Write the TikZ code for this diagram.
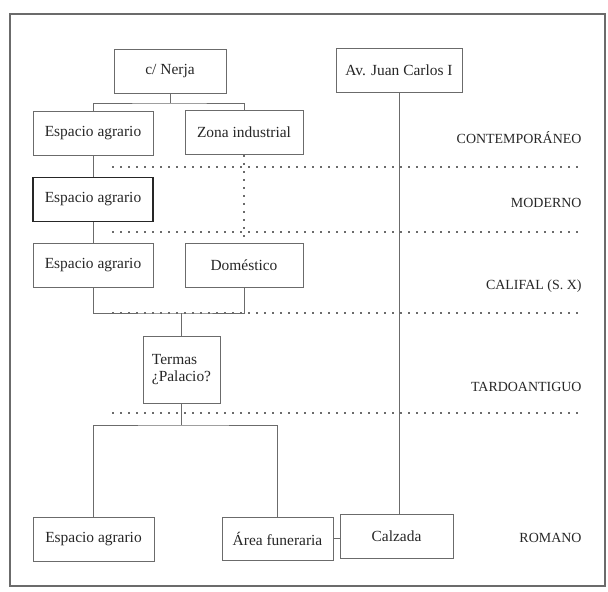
\documentclass[tikz,border=0pt]{standalone}
\usepackage{fontspec}
\setmainfont{Liberation Serif}
\usetikzlibrary{positioning}
\definecolor{linegray}{gray}{0.42}
\definecolor{inkgray}{gray}{0.15}

\begin{document}
\begin{tikzpicture}[x=1bp,y=-1bp,
    font=\fontsize{15.5}{17}\selectfont, text=inkgray,
    site/.style={draw=linegray, line width=0.8bp, inner sep=1bp,
                 minimum height=44bp, align=center},
    period/.style={anchor=east, font=\fontsize{14}{16}\selectfont},
    link/.style={draw=linegray, line width=0.9bp},
    phase/.style={draw=linegray, line width=1.2bp, dash pattern=on 2bp off 6bp}]
    \useasboundingbox (0,0) rectangle (608,592);
    \draw[linegray, line width=1.1bp] (10,14) rectangle (605,586);
    % dotted phase borders
    \foreach \y in {167,232,313,413}
        \draw[phase] (112,\y) -- (580,\y);
    % sites
    \node[site, minimum width=112bp] (nerja) at (170,71) {c/ Nerja};
    \node[site, minimum width=126bp] (juan) at (399,70) {Av. Juan Carlos I};
    \node[site, minimum width=120bp] (agrA) at (93,133.5) {Espacio agrario};
    \node[site, minimum width=118bp] (indus) at (244,132.5) {Zona industrial};
    \node[site, minimum width=120bp, line width=1.3bp, draw=inkgray] (agrB) at (93,199.5) {Espacio agrario};
    \node[site, minimum width=120bp] (agrC) at (93,265) {Espacio agrario};
    \node[site, minimum width=118bp] (domes) at (244,265) {Doméstico};
    \node[site, minimum width=77bp, minimum height=67bp, align=left] (termas) at (181.5,369.5) {Termas\\¿Palacio?};
    \node[site, minimum width=121bp] (agrD) at (93.5,539.5) {Espacio agrario};
    \node[site, minimum width=111bp, minimum height=43bp] (funer) at (277.5,538.5) {Área funeraria};
    \node[site, minimum width=113bp] (calz) at (396.5,536) {Calzada};
    % periods
    \node[period] (contemp) at (585,138) {CONTEMPORÁNEO};
    \node[period] (moder) at (585,203) {MODERNO};
    \node[period] (calif) at (585,286) {CALIFAL (S. X)};
    \node[period] (tardo) at (585,387) {TARDOANTIGUO};
    \node[period] (roman) at (585,538) {ROMANO};
    % connectors
    \coordinate (forkA) at (170,103);
    \draw[link] (nerja.south) -- (forkA);
    \draw[link] (agrA.north) |- (forkA) -| (indus.north);
    \draw[link] (agrA) -- (agrB) -- (agrC);
    \draw[phase] (indus.south) -- (domes.north);
    \coordinate (forkB) at (181.5,313);
    \draw[link] (agrC.south) |- (forkB) -| (domes.south);
    \draw[link] (forkB) -- (termas.north);
    \coordinate (forkC) at (181.5,425);
    \draw[link] (termas.south) -- (forkC);
    \draw[link] (agrD.north) |- (forkC) -| (funer.north);
    \draw[link] (funer.east) -- (funer.east -| calz.west);
    \draw[link] (juan.south) -- (juan.south |- calz.north);
\end{tikzpicture}
\end{document}
